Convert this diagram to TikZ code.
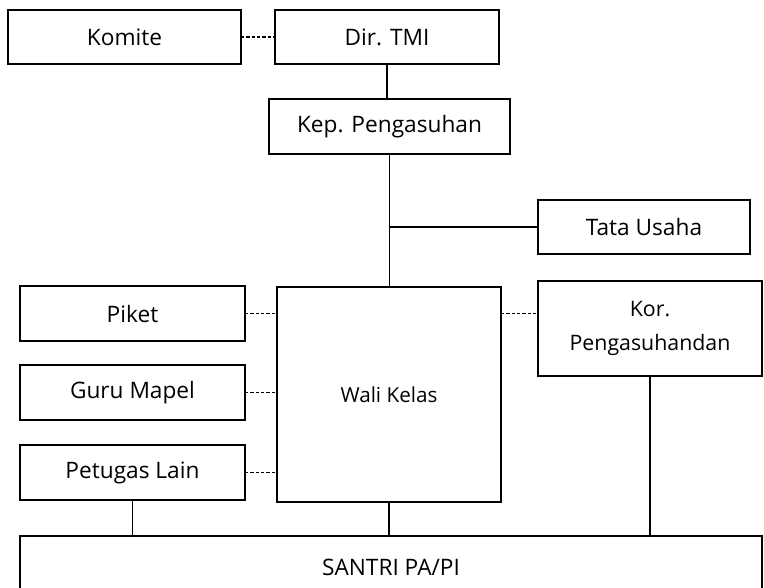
\documentclass[tikz,border=0pt]{standalone}
\usepackage{fontspec}
\setmainfont{Open Sans}
\begin{document}
\begin{tikzpicture}[x=0.75pt,y=-0.75pt,
  box/.style={draw, line width=1.1pt, inner sep=0pt, outer sep=0pt, font=\fontsize{17}{20}\selectfont, align=center},
  solidline/.style={line width=1pt},
  dashline/.style={line width=1.4pt, dash pattern=on 2.6pt off 1.4pt}]
\useasboundingbox[fill=white] (0,0) rectangle (764,588);
\node[box, minimum width=174.75pt, minimum height=40.5pt] (komite) at (124.5,37) {Komite};
\node[box, minimum width=168pt, minimum height=40.5pt] (dir) at (387,37) {Dir. TMI};
\node[box, minimum width=180.75pt, minimum height=41.25pt] (kep) at (389.5,126.5) {Kep. Pengasuhan};
\node[box, minimum width=159pt, minimum height=40.5pt] (tata) at (644,227) {Tata Usaha};
\node[box, line width=1.5pt, font=\fontsize{15.5}{18}\selectfont, minimum width=168pt, minimum height=161.25pt] (wali) at (389,394.5) {Wali Kelas};
\node[box, minimum width=168.75pt, minimum height=41.25pt] (piket) at (132.5,313.5) {Piket};
\node[box, minimum width=168.75pt, minimum height=41.25pt] (guru) at (132.5,392.5) {Guru Mapel};
\node[box, minimum width=168.75pt, minimum height=41.25pt] (petugas) at (132.5,472.5) {Petugas Lain};
\node[box, minimum width=168pt, minimum height=71.25pt, font=\fontsize{16}{25.5}\selectfont] (kor) at (650,328.5) {Kor.\\Pengasuhandan};
\node[box, minimum width=556.5pt, minimum height=46.5pt] (santri) at (391,567) {SANTRI PA/PI};

\draw[dashline] (komite.east) -- (dir.west);
\draw[solidline] (dir.south) -- (dir.south |- kep.north);
\draw[solidline] (kep.south) -- (kep.south |- wali.north);
\coordinate (junc) at (kep.south |- tata.west);
\draw[solidline] (junc) -- (tata.west);
\draw[dashline] (piket.east) -- (piket.east -| wali.west);
\draw[dashline] (guru.east) -- (guru.east -| wali.west);
\draw[dashline] (petugas.east) -- (petugas.east -| wali.west);
\draw[dashline] (wali.east |- piket.east) -- (kor.west |- piket.east);
\draw[solidline] (petugas.south) -- (petugas.south |- santri.north);
\draw[solidline] (wali.south) -- (wali.south |- santri.north);
\draw[solidline] (kor.south) -- (kor.south |- santri.north);
\end{tikzpicture}
\end{document}
